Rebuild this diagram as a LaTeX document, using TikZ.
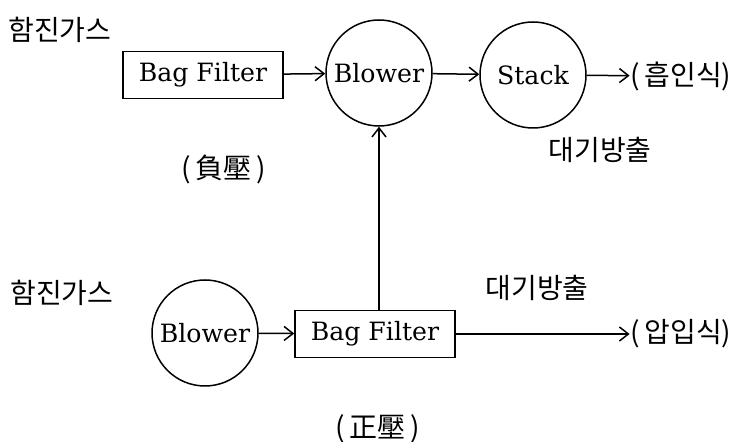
\documentclass[tikz,border=0pt]{standalone}
\usepackage{fontspec}
\newfontfamily\krfont{Noto Sans CJK KR}
\newfontfamily\unitfont{DejaVu Serif}
\usetikzlibrary{arrows.meta,positioning}

\begin{document}
\begin{tikzpicture}[x=0.5pt,y=-0.5pt,line width=0.75pt,
    unit/.style={draw,font=\unitfont\fontsize{12.6}{15}\selectfont},
    filterbox/.style={unit,rectangle,minimum width=80pt,minimum height=23.5pt,inner sep=0pt},
    fanball/.style={unit,circle,minimum size=53pt,inner sep=0pt},
    krtext/.style={font=\krfont\fontsize{14}{16}\selectfont,inner sep=0pt},
    flow/.style={-{Straight Barb[length=4.5pt,width=7pt]}}]
  \useasboundingbox (0,0) rectangle (734,442);
  % suction type (negative pressure)
  \node[krtext] (gasA) at (60,30) {함진가스};
  \node[filterbox] (bagA) at (203,75) {Bag Filter};
  \node[fanball] (fanA) at (379,73) {Blower};
  \node[fanball] (stack) at (533,75) {Stack};
  \node[krtext,anchor=east] (outA) at (732,76) {(\,흡인식)};
  \node[krtext] (ventA) at (600,150) {대기방출};
  \node[krtext] (negP) at (224,169) {(\,負壓\,)};
  \draw[flow] (stack) -- (outA);
  \draw[flow] (bagA) -- (fanA);
  \draw[flow] (fanA) -- (stack);
  % forced type (positive pressure)
  \node[krtext] (gasB) at (62,293) {함진가스};
  \node[fanball] (fanB) at (205,333) {Blower};
  \node[filterbox] (bagB) at (375,334) {Bag Filter};
  \node[krtext,anchor=east] (outB) at (732,334) {(\,압입식)};
  \node[krtext] (ventB) at (537,288) {대기방출};
  \node[krtext] (posP) at (378,429) {(\,正壓\,)};
  \draw[flow] (fanB) -- (bagB);
  \draw[flow] (bagB) -- (outB);
  \draw[flow] (bagB.north -| fanA.south) -- (fanA.south);
\end{tikzpicture}
\end{document}
